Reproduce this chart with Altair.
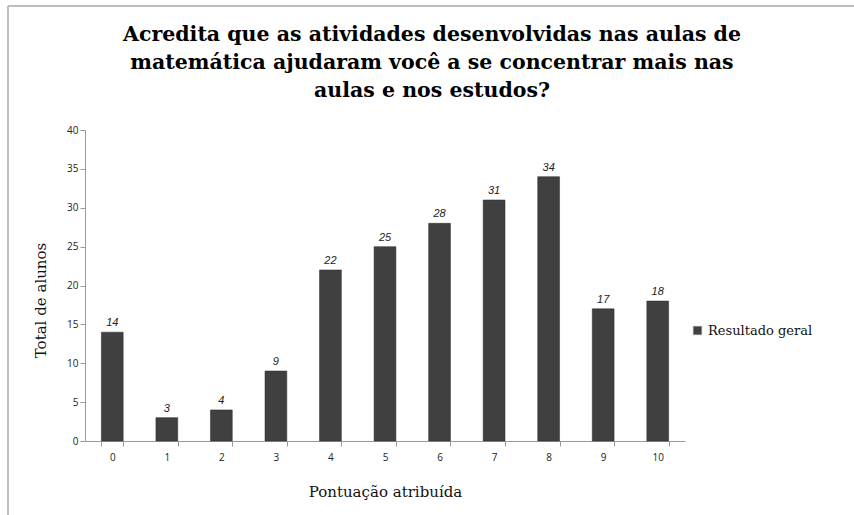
import altair as alt
import pandas as pd

categorias = ["0", "1", "2", "3", "4", "5", "6", "7", "8", "9", "10"]
valores = [14, 3, 4, 9, 22, 25, 28, 31, 34, 17, 18]
serie = "Resultado geral"
titulo = ["Acredita que as atividades desenvolvidas nas aulas de",
          "matemática ajudaram você a se concentrar mais nas",
          "aulas e nos estudos?"]

df = pd.DataFrame({"Pontuação": categorias, "Total": valores, "Série": [serie] * len(valores)})

W, H = 600, 311
x = alt.X("Pontuação:N", sort=categorias, title="Pontuação atribuída",
          scale=alt.Scale(paddingInner=0.6, paddingOuter=0.3),
          axis=alt.Axis(labelAngle=0, labelFont="Open Sans", labelFontSize=10, labelColor="#222",
                        labelPadding=6, tickBand="extent", tickColor="#999", tickSize=5,
                        domainColor="#999", titleFont="DejaVu Serif", titleFontSize=15,
                        titleFontWeight="normal", titleColor="#111", titlePadding=22, grid=False))
y = alt.Y("Total:Q", title="Total de alunos",
          scale=alt.Scale(domain=[0, 40], nice=False),
          axis=alt.Axis(values=list(range(0, 41, 5)), labelFont="Open Sans", labelFontSize=10,
                        labelColor="#222", tickColor="#999", tickSize=5, domainColor="#999",
                        grid=False, titleFont="DejaVu Serif", titleFontSize=15,
                        titleFontWeight="normal", titleColor="#111",
                        titleX=-45, titleY=170, titleAlign="center", titleBaseline="middle"))

bars = alt.Chart(df).mark_bar(stroke="#2a2a2a", strokeWidth=0.5).encode(
    x=x, y=y,
    color=alt.Color("Série:N", scale=alt.Scale(range=["#404040"]),
                    legend=alt.Legend(title=None, orient="none", legendX=606, legendY=194,
                                      symbolType="square", symbolSize=70,
                                      symbolStrokeColor="#888", symbolStrokeWidth=0.5,
                                      labelFont="DejaVu Serif", labelFontSize=13,
                                      labelColor="#111"))
)

labels = alt.Chart(df).mark_text(baseline="bottom", dy=-4, font="Liberation Sans",
                                 fontStyle="italic", fontSize=11, color="#222").encode(
    x=x, y=y, text="Total:Q")

border_top = alt.Chart(df).mark_rule(color="#bdbdbd", strokeWidth=2).encode(
    x=alt.value(-77), x2=alt.value(854 - 85), y=alt.value(-124))
border_left = alt.Chart(df).mark_rule(color="#bdbdbd", strokeWidth=2).encode(
    x=alt.value(-77), y=alt.value(-124), y2=alt.value(515 - 130))

chart = alt.layer(border_top, border_left, bars, labels).properties(
    width=W, height=H,
    background="white",
    autosize=alt.AutoSizeParams(type="none"),
    padding={"left": 85, "top": 130, "right": 169, "bottom": 74},
    title=alt.TitleParams(text=titulo, font="DejaVu Serif", fontSize=20.5, fontWeight="bold",
                          color="#000", lineHeight=28, anchor="middle", dx=47, offset=-96),
).configure_view(stroke=None)

chart.save("out.html", embed_options={"renderer": "svg", "actions": False})
